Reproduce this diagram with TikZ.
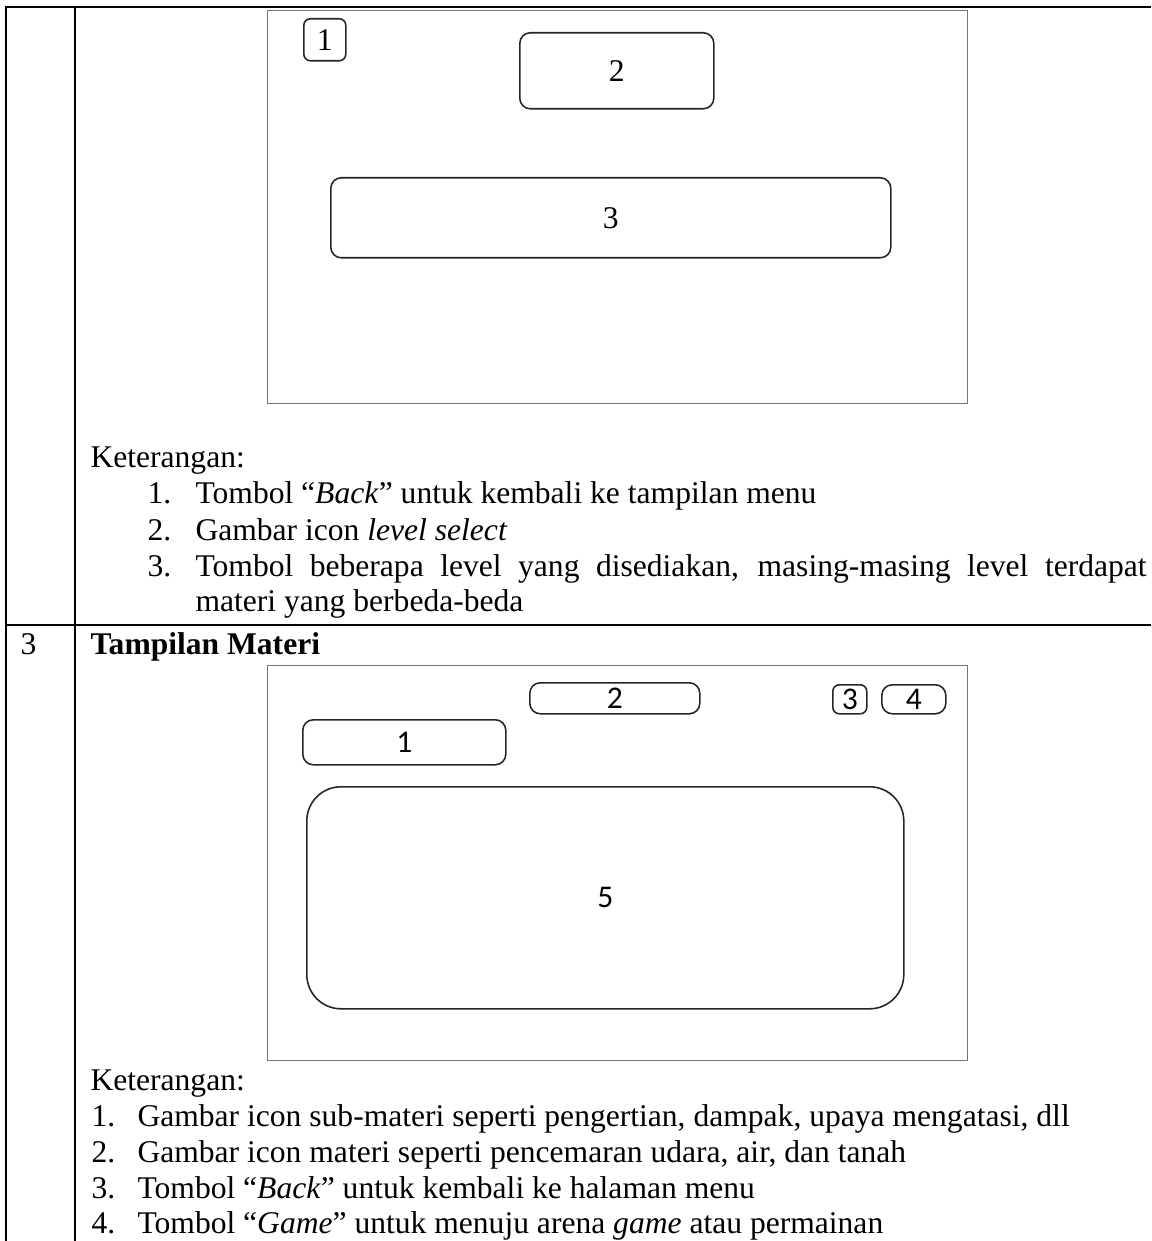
\documentclass[tikz,border=0pt]{standalone}
\usepackage{fontspec}
\setmainfont{Liberation Serif}
\newfontfamily\uifont{Carlito}
\usetikzlibrary{positioning}

\begin{document}
\begin{tikzpicture}[
        x=0.38pt, y=-0.38pt,
        grid/.style={line width=0.9pt, black},
        frame/.style={draw=black!55, line width=0.45pt, inner sep=0pt, anchor=north west},
        btn/.style={draw=black!85, rounded corners=4pt, line width=0.6pt, inner sep=0pt, anchor=north west},
        sz/.style 2 args={minimum width=#1*0.38pt, minimum height=#2*0.38pt},
        txt/.style={inner sep=0pt, anchor=base west, font=\fontsize{12}{14}\selectfont},
        serifnum/.style={font=\fontsize{12}{12}\selectfont},
        uinum/.style={font=\uifont\fontsize{12}{12}\selectfont}
        ]
        \useasboundingbox (0,0) rectangle (1151,1241);
        % table lines
        \coordinate (tl) at (6,7);
        \coordinate (tr) at (1151,7);
        \coordinate (bl) at (6,1241);
        \coordinate (cl) at (75,7);
        \coordinate (cb) at (75,1241);
        \coordinate (rl) at (6,625);
        \coordinate (rr) at (1151,625);
        \draw[grid] (tr) -- (tl) -- (bl);
        \draw[grid] (cl) -- (cb);
        \draw[grid] (rl) -- (rr);

        % level select screen
        \node[frame, sz={700}{393}] (scr1) at (267,10) {};
        \node[btn, sz={42}{42}, rounded corners=2.5pt, serifnum] (back1) at (303,18) {1};
        \node[btn, sz={194}{76}, serifnum] (icon1) at (519,32) {2};
        \node[btn, sz={560}{80}, serifnum] (lvl1) at (330,177) {3};

        \node[txt] (ket1) at (90,468) {Keterangan:};
        \node[txt] (n11) at (147,504) {1.};
        \node[txt] (t11) at (195,504) {Tombol “\textit{Back}” untuk kembali ke tampilan menu};
        \node[txt] (n12) at (147,540) {2.};
        \node[txt] (t12) at (195,540) {Gambar icon \textit{level select}};
        \node[txt] (n13) at (147,576) {3.};
        \node[txt] (t13) at (195,576) {\makebox[361.4pt][s]{Tombol beberapa level yang disediakan, masing-masing level terdapat}};
        \node[txt] (t13b) at (195,611) {materi yang berbeda-beda};

        % row 3
        \node[txt] (no3) at (20,654) {3};
        \node[txt] (judul3) at (90,654) {\textbf{Tampilan Materi}};

        % materi screen
        \node[frame, sz={700}{395}] (scr2) at (267,665) {};
        \node[btn, sz={170}{31}, uinum] (materi2) at (529,682) {2};
        \node[btn, sz={34}{29}, rounded corners=2.5pt, uinum] (back2) at (832,684) {3};
        \node[btn, sz={64}{29}, uinum] (game2) at (881,684) {4};
        \node[btn, sz={203}{45}, uinum] (sub2) at (302,719) {1};
        \node[btn, sz={597}{222}, rounded corners=13pt, uinum] (isi2) at (306,786) {5};

        \node[txt] (ket2) at (90,1090) {Keterangan:};
        \node[txt] (n21) at (91,1126) {1.};
        \node[txt] (t21) at (137,1126) {Gambar icon sub-materi seperti pengertian, dampak, upaya mengatasi, dll};
        \node[txt] (n22) at (91,1162) {2.};
        \node[txt] (t22) at (137,1162) {Gambar icon materi seperti pencemaran udara, air, dan tanah};
        \node[txt] (n23) at (91,1198) {3.};
        \node[txt] (t23) at (137,1198) {Tombol “\textit{Back}” untuk kembali ke halaman menu};
        \node[txt] (n24) at (91,1233) {4.};
        \node[txt] (t24) at (137,1233) {Tombol “\textit{Game}” untuk menuju arena \textit{game} atau permainan};
    \end{tikzpicture}
\end{document}
